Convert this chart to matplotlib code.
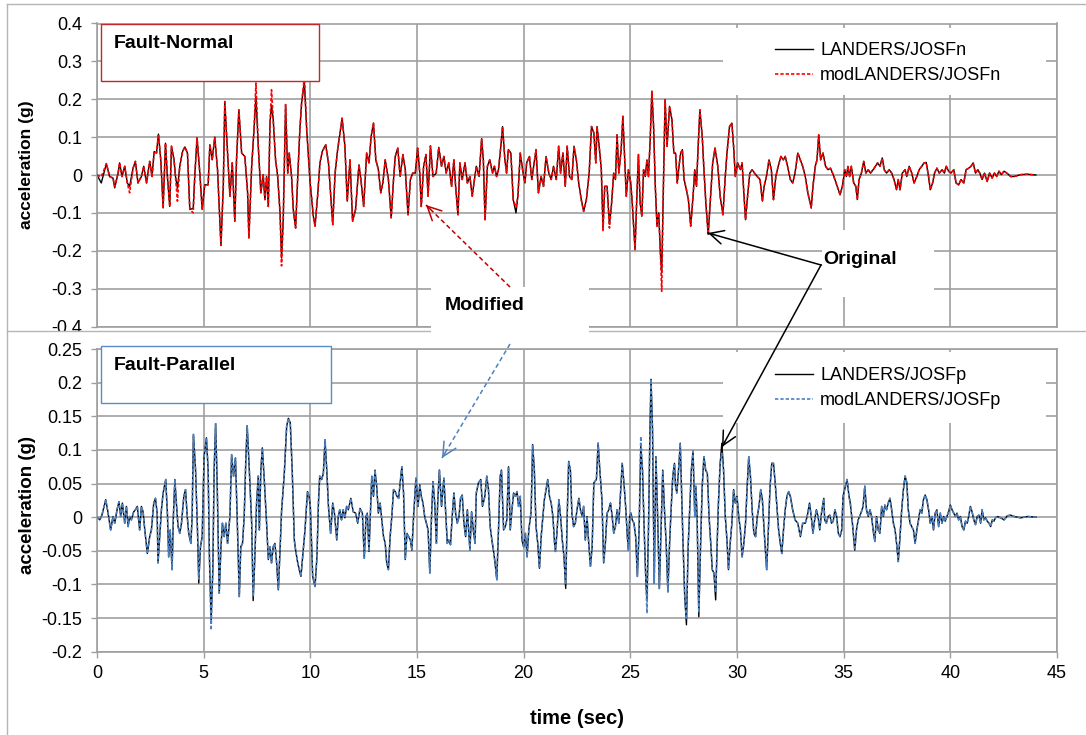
import matplotlib
matplotlib.use('Agg')
import matplotlib.pyplot as plt
from matplotlib.patches import Rectangle, FancyArrowPatch
from matplotlib.lines import Line2D

plt.rcParams['font.family'] = ['Liberation Sans', 'DejaVu Sans']

# ---------------- data ----------------
T_FN = [
 0.00, 0.20, 0.44, 0.59, 0.75, 0.83, 0.99, 1.06, 1.17, 1.30,
 1.42, 1.53, 1.69, 1.80, 1.92, 2.08, 2.19, 2.32, 2.47, 2.58,
 2.68, 2.79, 2.88, 2.99, 3.10, 3.21, 3.30, 3.41, 3.49, 3.61,
 3.68, 3.77, 3.88, 4.01, 4.12, 4.24, 4.35, 4.51, 4.59, 4.69,
 4.82, 4.93, 5.05, 5.21, 5.29, 5.40, 5.52, 5.65, 5.81, 5.92,
 5.99, 6.12, 6.23, 6.34, 6.46, 6.54, 6.65, 6.78, 6.93, 7.06,
 7.12, 7.25, 7.36, 7.45, 7.56, 7.68, 7.79, 7.87, 7.95, 8.03,
 8.11, 8.18, 8.26, 8.37, 8.47, 8.58, 8.65, 8.73, 8.84, 8.94,
 9.01, 9.12, 9.20, 9.31, 9.41, 9.51, 9.59, 9.72, 9.83, 9.98,
 10.14, 10.22, 10.34, 10.45, 10.56, 10.72, 10.85, 10.97, 11.05, 11.16,
 11.28, 11.49, 11.62, 11.73, 11.86, 11.98, 12.12, 12.28, 12.37, 12.50,
 12.64, 12.75, 12.85, 12.96, 13.07, 13.19, 13.30, 13.40, 13.51, 13.66,
 13.79, 13.90, 13.98, 14.10, 14.21, 14.34, 14.45, 14.58, 14.69, 14.80,
 14.92, 15.03, 15.13, 15.20, 15.31, 15.42, 15.52, 15.63, 15.75, 15.90,
 16.02, 16.15, 16.26, 16.37, 16.49, 16.62, 16.73, 16.81, 16.92, 17.01,
 17.12, 17.25, 17.36, 17.48, 17.59, 17.67, 17.78, 17.91, 18.03, 18.11,
 18.19, 18.30, 18.41, 18.54, 18.63, 18.73, 18.82, 18.93, 19.01, 19.12,
 19.20, 19.28, 19.40, 19.51, 19.64, 19.73, 19.84, 19.95, 20.06, 20.14,
 20.27, 20.38, 20.47, 20.58, 20.69, 20.82, 20.93, 21.05, 21.18, 21.29,
 21.40, 21.53, 21.64, 21.73, 21.84, 21.95, 22.04, 22.15, 22.26, 22.36,
 22.47, 22.58, 22.70, 22.81, 22.94, 23.07, 23.18, 23.29, 23.38, 23.44,
 23.57, 23.64, 23.72, 23.80, 23.91, 24.02, 24.11, 24.22, 24.30, 24.38,
 24.46, 24.57, 24.65, 24.75, 24.81, 24.91, 25.02, 25.09, 25.22, 25.30,
 25.38, 25.46, 25.54, 25.62, 25.70, 25.78, 25.85, 25.93, 26.01, 26.09,
 26.17, 26.25, 26.33, 26.41, 26.47, 26.55, 26.63, 26.72, 26.84, 26.95,
 27.04, 27.12, 27.20, 27.28, 27.36, 27.44, 27.52, 27.63, 27.72, 27.83,
 27.94, 28.02, 28.10, 28.18, 28.26, 28.37, 28.45, 28.54, 28.65, 28.77,
 28.86, 28.97, 29.10, 29.21, 29.34, 29.45, 29.53, 29.65, 29.76, 29.84,
 29.92, 30.03, 30.16, 30.24, 30.32, 30.40, 30.51, 30.60, 30.71, 30.82,
 30.95, 31.08, 31.19, 31.27, 31.38, 31.50, 31.61, 31.71, 31.82, 31.93,
 32.06, 32.17, 32.26, 32.37, 32.50, 32.61, 32.72, 32.85, 32.97, 33.08,
 33.20, 33.32, 33.48, 33.56, 33.67, 33.75, 33.83, 33.92, 34.03, 34.15,
 34.27, 34.38, 34.48, 34.59, 34.70, 34.83, 34.94, 35.05, 35.13, 35.20,
 35.28, 35.36, 35.47, 35.57, 35.64, 35.72, 35.83, 35.94, 36.04, 36.15,
 36.26, 36.38, 36.49, 36.59, 36.70, 36.81, 36.90, 37.01, 37.14, 37.25,
 37.36, 37.48, 37.56, 37.64, 37.75, 37.88, 37.96, 38.07, 38.19, 38.30,
 38.43, 38.54, 38.66, 38.77, 38.87, 38.98, 39.06, 39.17, 39.26, 39.37,
 39.48, 39.61, 39.72, 39.81, 39.92, 40.03, 40.16, 40.27, 40.39, 40.50,
 40.63, 40.74, 40.86, 40.97, 41.07, 41.18, 41.29, 41.38, 41.49, 41.60,
 41.73, 41.84, 41.96, 42.07, 42.17, 42.28, 42.39, 42.52, 42.67, 42.83,
 42.99, 43.30, 43.62, 44.01]

FN_ORIG = [
 0.000, -0.021, 0.030, -0.004, -0.008, -0.034, 0.005, 0.032, -0.004, 0.023,
 -0.021, -0.030, 0.018, 0.036, -0.021, -0.004, 0.023, -0.021, 0.036, -0.004,
 0.062, 0.058, 0.108, 0.040, -0.087, 0.084, -0.004, -0.083, 0.076, 0.040,
 -0.004, -0.035, 0.023, 0.062, 0.074, 0.058, -0.091, -0.088, 0.005, 0.098,
 0.005, -0.091, -0.026, -0.026, 0.080, 0.040, 0.100, 0.014, -0.186, -0.030,
 0.194, 0.058, -0.056, 0.032, -0.122, 0.040, 0.172, 0.058, 0.049, -0.047,
 -0.166, 0.023, 0.120, 0.208, 0.076, -0.047, 0.001, -0.065, -0.004, -0.083,
 0.137, 0.185, 0.146, 0.040, -0.004, -0.100, -0.219, -0.118, 0.186, 0.005,
 0.058, -0.004, -0.091, -0.140, -0.004, 0.120, 0.190, 0.245, 0.120, -0.012,
 -0.109, -0.135, -0.056, 0.032, 0.062, 0.080, 0.032, -0.065, -0.131, 0.005,
 0.067, 0.150, 0.076, -0.069, 0.040, -0.122, -0.091, 0.027, -0.012, -0.083,
 0.058, 0.032, 0.102, 0.137, 0.040, 0.014, -0.047, -0.021, 0.040, -0.012,
 -0.113, -0.012, 0.049, 0.071, -0.004, 0.054, 0.014, -0.105, -0.012, 0.005,
 0.005, 0.071, 0.005, -0.083, 0.023, 0.054, -0.056, 0.077, -0.004, 0.005,
 0.073, 0.023, 0.049, 0.005, 0.032, -0.030, 0.040, -0.030, -0.105, 0.032,
 -0.012, 0.032, -0.021, -0.004, -0.056, -0.021, 0.023, -0.004, 0.096, 0.040,
 -0.118, 0.023, 0.040, 0.005, 0.023, -0.004, 0.014, 0.076, 0.128, 0.040,
 0.005, 0.067, 0.058, -0.065, -0.100, -0.056, 0.058, 0.014, -0.021, 0.032,
 0.049, -0.012, 0.023, 0.067, -0.047, -0.004, -0.030, 0.049, 0.005, -0.012,
 0.023, -0.012, 0.076, 0.005, 0.058, -0.030, 0.076, -0.004, -0.012, 0.076,
 0.040, -0.021, -0.065, -0.096, -0.065, 0.005, 0.128, 0.111, 0.032, 0.128,
 0.058, 0.014, -0.140, -0.030, -0.030, -0.130, -0.083, 0.005, -0.012, 0.106,
 0.005, 0.067, 0.155, 0.023, -0.056, 0.014, -0.021, -0.074, -0.197, -0.065,
 0.054, -0.074, -0.109, 0.014, -0.004, 0.040, -0.004, 0.093, 0.221, 0.128,
 -0.030, -0.135, -0.100, -0.206, -0.259, -0.030, 0.199, 0.076, 0.181, 0.146,
 0.058, 0.058, -0.021, 0.023, 0.058, 0.067, -0.012, -0.039, -0.065, -0.135,
 -0.056, 0.014, -0.030, 0.076, 0.172, 0.102, 0.014, -0.074, -0.157, -0.047,
 0.032, 0.071, 0.023, -0.056, -0.105, -0.004, 0.058, 0.128, 0.137, 0.076,
 -0.004, 0.032, 0.014, 0.032, -0.047, -0.118, -0.047, 0.005, 0.014, 0.005,
 -0.004, -0.012, -0.069, -0.030, -0.004, 0.040, 0.014, -0.065, -0.004, 0.023,
 0.049, 0.040, 0.049, 0.023, -0.012, -0.021, 0.005, 0.058, 0.040, 0.023,
 -0.004, -0.047, -0.087, -0.030, 0.023, 0.040, 0.106, 0.040, 0.058, 0.023,
 0.014, 0.018, 0.005, -0.012, -0.030, -0.052, -0.030, 0.014, -0.004, 0.023,
 -0.004, 0.023, -0.021, -0.030, -0.065, -0.012, 0.005, 0.036, 0.005, 0.014,
 0.005, 0.014, 0.023, 0.032, 0.023, 0.045, 0.014, 0.005, 0.014, 0.005,
 -0.012, -0.039, -0.012, -0.039, 0.005, 0.014, -0.004, 0.023, 0.005, -0.021,
 -0.004, 0.014, 0.023, 0.032, 0.033, -0.004, -0.039, -0.021, 0.005, 0.018,
 0.005, 0.014, 0.005, 0.023, 0.010, 0.005, 0.014, -0.021, -0.026, -0.012,
 -0.021, 0.014, 0.018, 0.023, 0.032, 0.005, 0.014, 0.005, -0.012, 0.005,
 -0.017, 0.005, -0.008, 0.005, -0.004, 0.010, 0.001, 0.010, 0.004, -0.004,
 -0.004, 0.001, 0.002, 0.000]

FN_MOD = [
 0.000, -0.005, 0.030, -0.004, -0.008, -0.030, 0.005, 0.032, -0.004, 0.023,
 -0.021, -0.047, 0.018, 0.036, -0.021, -0.004, 0.023, -0.021, 0.036, -0.004,
 0.062, 0.058, 0.108, 0.040, -0.087, 0.084, -0.004, -0.083, 0.076, 0.040,
 -0.004, -0.069, 0.023, 0.062, 0.074, 0.058, -0.091, -0.100, 0.005, 0.098,
 0.005, -0.091, -0.026, -0.026, 0.080, 0.040, 0.100, 0.014, -0.186, -0.030,
 0.194, 0.058, -0.056, 0.032, -0.122, 0.040, 0.172, 0.058, 0.049, -0.047,
 -0.166, 0.023, 0.120, 0.243, 0.076, -0.047, 0.001, -0.065, -0.004, -0.083,
 0.137, 0.225, 0.146, 0.040, -0.004, -0.100, -0.240, -0.118, 0.186, 0.005,
 0.058, -0.004, -0.091, -0.140, -0.004, 0.120, 0.190, 0.258, 0.120, -0.012,
 -0.109, -0.135, -0.056, 0.032, 0.062, 0.080, 0.032, -0.065, -0.131, 0.005,
 0.067, 0.150, 0.076, -0.069, 0.040, -0.122, -0.091, 0.027, -0.012, -0.083,
 0.058, 0.032, 0.102, 0.137, 0.040, 0.014, -0.047, -0.021, 0.040, -0.012,
 -0.113, -0.012, 0.049, 0.071, -0.004, 0.054, 0.014, -0.105, -0.012, 0.005,
 0.005, 0.071, 0.005, -0.083, 0.023, 0.054, -0.056, 0.077, -0.004, 0.005,
 0.073, 0.023, 0.049, 0.005, 0.032, -0.030, 0.040, -0.030, -0.105, 0.032,
 -0.012, 0.032, -0.021, -0.004, -0.056, -0.021, 0.023, -0.004, 0.096, 0.040,
 -0.118, 0.023, 0.040, 0.005, 0.023, -0.004, 0.014, 0.076, 0.128, 0.040,
 0.005, 0.067, 0.058, -0.065, -0.085, -0.056, 0.058, 0.014, -0.021, 0.032,
 0.049, -0.012, 0.023, 0.067, -0.047, -0.004, -0.030, 0.049, 0.005, -0.012,
 0.023, -0.012, 0.076, 0.005, 0.058, -0.030, 0.076, -0.004, -0.012, 0.076,
 0.040, -0.021, -0.065, -0.096, -0.065, 0.005, 0.128, 0.111, 0.032, 0.128,
 0.058, 0.014, -0.149, -0.030, -0.030, -0.140, -0.083, 0.005, -0.012, 0.106,
 0.005, 0.067, 0.155, 0.023, -0.056, 0.014, -0.021, -0.074, -0.197, -0.065,
 0.054, -0.074, -0.109, 0.014, -0.004, 0.040, -0.004, 0.093, 0.221, 0.128,
 -0.030, -0.135, -0.100, -0.206, -0.307, -0.030, 0.199, 0.076, 0.181, 0.146,
 0.058, 0.058, -0.021, 0.023, 0.058, 0.067, -0.012, -0.039, -0.065, -0.135,
 -0.056, 0.014, -0.030, 0.076, 0.172, 0.102, 0.014, -0.074, -0.157, -0.047,
 0.032, 0.071, 0.023, -0.056, -0.105, -0.004, 0.058, 0.128, 0.137, 0.076,
 -0.004, 0.032, 0.014, 0.032, -0.047, -0.118, -0.047, 0.005, 0.014, 0.005,
 -0.004, -0.012, -0.069, -0.030, -0.004, 0.040, 0.014, -0.065, -0.004, 0.023,
 0.049, 0.040, 0.049, 0.023, -0.012, -0.021, 0.005, 0.058, 0.040, 0.023,
 -0.004, -0.047, -0.087, -0.030, 0.023, 0.040, 0.106, 0.040, 0.058, 0.023,
 0.014, 0.018, 0.005, -0.012, -0.030, -0.052, -0.030, 0.014, -0.004, 0.023,
 -0.004, 0.023, -0.021, -0.030, -0.065, -0.012, 0.005, 0.036, 0.005, 0.014,
 0.005, 0.014, 0.023, 0.032, 0.023, 0.045, 0.014, 0.005, 0.014, 0.005,
 -0.012, -0.039, -0.012, -0.039, 0.005, 0.014, -0.004, 0.023, 0.005, -0.021,
 -0.004, 0.014, 0.023, 0.032, 0.033, -0.004, -0.039, -0.021, 0.005, 0.018,
 0.005, 0.014, 0.005, 0.023, 0.010, 0.005, 0.014, -0.021, -0.026, -0.012,
 -0.021, 0.014, 0.018, 0.023, 0.032, 0.005, 0.014, 0.005, -0.012, 0.005,
 -0.017, 0.005, -0.008, 0.005, -0.004, 0.010, 0.001, 0.010, 0.004, -0.004,
 -0.004, 0.001, 0.002, 0.000]

T_FP = [
 0.00, 0.13, 0.23, 0.33, 0.41, 0.52, 0.64, 0.75, 0.83, 0.94,
 1.03, 1.11, 1.19, 1.30, 1.38, 1.46, 1.53, 1.61, 1.72, 1.80,
 1.89, 2.00, 2.08, 2.16, 2.24, 2.36, 2.47, 2.55, 2.66, 2.74,
 2.82, 2.86, 2.94, 3.02, 3.10, 3.22, 3.30, 3.36, 3.43, 3.52,
 3.58, 3.65, 3.72, 3.80, 3.88, 3.96, 4.07, 4.15, 4.23, 4.30,
 4.40, 4.46, 4.52, 4.62, 4.71, 4.77, 4.85, 4.93, 5.02, 5.13,
 5.21, 5.27, 5.35, 5.43, 5.49, 5.56, 5.63, 5.73, 5.81, 5.88,
 5.96, 6.04, 6.12, 6.23, 6.31, 6.40, 6.49, 6.57, 6.67, 6.74,
 6.82, 6.90, 6.98, 7.04, 7.14, 7.25, 7.32, 7.40, 7.48, 7.56,
 7.61, 7.68, 7.75, 7.84, 7.95, 8.03, 8.11, 8.18, 8.26, 8.34,
 8.42, 8.50, 8.58, 8.65, 8.78, 8.89, 8.97, 9.06, 9.15, 9.25,
 9.31, 9.41, 9.48, 9.56, 9.64, 9.75, 9.83, 9.87, 9.94, 10.00,
 10.11, 10.22, 10.31, 10.38, 10.44, 10.53, 10.61, 10.69, 10.77, 10.85,
 10.95, 11.05, 11.13, 11.24, 11.31, 11.38, 11.46, 11.54, 11.62, 11.70,
 11.78, 11.90, 12.01, 12.12, 12.22, 12.33, 12.44, 12.53, 12.61, 12.67,
 12.75, 12.83, 12.88, 12.96, 13.03, 13.11, 13.19, 13.27, 13.35, 13.43,
 13.51, 13.58, 13.66, 13.74, 13.82, 13.90, 13.98, 14.06, 14.14, 14.21,
 14.29, 14.37, 14.45, 14.53, 14.61, 14.69, 14.76, 14.84, 14.95, 15.05,
 15.13, 15.20, 15.28, 15.36, 15.44, 15.52, 15.60, 15.68, 15.75, 15.83,
 15.91, 15.97, 16.05, 16.15, 16.26, 16.34, 16.42, 16.49, 16.57, 16.65,
 16.73, 16.81, 16.89, 16.97, 17.04, 17.12, 17.20, 17.28, 17.36, 17.44,
 17.48, 17.56, 17.64, 17.72, 17.78, 17.88, 17.99, 18.07, 18.18, 18.27,
 18.35, 18.43, 18.51, 18.58, 18.66, 18.74, 18.82, 18.90, 18.96, 19.06,
 19.14, 19.21, 19.29, 19.37, 19.45, 19.53, 19.61, 19.69, 19.76, 19.84,
 19.92, 20.00, 20.08, 20.16, 20.24, 20.35, 20.42, 20.50, 20.58, 20.66,
 20.74, 20.82, 20.90, 20.97, 21.05, 21.13, 21.21, 21.29, 21.37, 21.45,
 21.49, 21.57, 21.65, 21.73, 21.81, 21.89, 21.97, 22.04, 22.11, 22.19,
 22.26, 22.34, 22.42, 22.50, 22.59, 22.66, 22.74, 22.81, 22.89, 22.97,
 23.05, 23.13, 23.21, 23.29, 23.41, 23.49, 23.57, 23.67, 23.75, 23.83,
 23.91, 23.99, 24.07, 24.15, 24.22, 24.30, 24.38, 24.46, 24.54, 24.62,
 24.70, 24.78, 24.86, 24.91, 24.97, 25.03, 25.09, 25.17, 25.25, 25.33,
 25.41, 25.49, 25.57, 25.65, 25.73, 25.78, 25.85, 25.92, 25.97, 26.04,
 26.12, 26.20, 26.28, 26.36, 26.44, 26.52, 26.60, 26.68, 26.76, 26.84,
 26.91, 26.99, 27.07, 27.12, 27.18, 27.26, 27.34, 27.41, 27.47, 27.55,
 27.63, 27.71, 27.78, 27.86, 27.94, 28.02, 28.07, 28.13, 28.21, 28.29,
 28.37, 28.45, 28.53, 28.61, 28.69, 28.77, 28.84, 28.92, 29.00, 29.07,
 29.13, 29.21, 29.29, 29.37, 29.45, 29.53, 29.60, 29.68, 29.76, 29.84,
 29.92, 30.00, 30.08, 30.16, 30.24, 30.32, 30.40, 30.47, 30.55, 30.63,
 30.71, 30.79, 30.87, 30.95, 31.03, 31.11, 31.19, 31.27, 31.39, 31.47,
 31.55, 31.63, 31.71, 31.79, 31.87, 31.95, 32.03, 32.10, 32.18, 32.26,
 32.34, 32.42, 32.50, 32.61, 32.72, 32.85, 32.97, 33.08, 33.20, 33.29,
 33.40, 33.48, 33.56, 33.64, 33.72, 33.80, 33.88, 33.96, 34.07, 34.11,
 34.19, 34.27, 34.35, 34.43, 34.51, 34.59, 34.67, 34.75, 34.83, 34.91,
 34.97, 35.16, 35.25, 35.31, 35.41, 35.52, 35.60, 35.68, 35.75, 35.83,
 35.91, 35.99, 36.07, 36.15, 36.23, 36.31, 36.38, 36.46, 36.54, 36.62,
 36.70, 36.78, 36.86, 36.93, 37.01, 37.09, 37.17, 37.25, 37.33, 37.41,
 37.48, 37.56, 37.64, 37.72, 37.80, 37.88, 37.96, 38.03, 38.11, 38.19,
 38.27, 38.35, 38.43, 38.51, 38.58, 38.66, 38.74, 38.82, 38.90, 38.98,
 39.06, 39.14, 39.21, 39.29, 39.37, 39.45, 39.53, 39.61, 39.69, 39.76,
 39.84, 39.92, 40.00, 40.08, 40.16, 40.24, 40.31, 40.39, 40.47, 40.55,
 40.63, 40.71, 40.79, 40.86, 40.94, 41.02, 41.10, 41.18, 41.26, 41.34,
 41.42, 41.49, 41.57, 41.65, 41.73, 41.81, 41.89, 41.97, 42.04, 42.12,
 42.20, 42.36, 42.52, 42.67, 42.83, 42.99, 43.30, 43.62, 44.01]

FP_ORIG = [
 0.000, -0.004, 0.003, 0.016, 0.026, 0.006, -0.019, 0.001, -0.009, 0.011,
 0.023, 0.001, 0.021, -0.009, 0.016, -0.014, 0.001, -0.004, 0.008, 0.011,
 0.016, -0.019, 0.016, 0.008, -0.019, -0.054, -0.029, -0.019, 0.021, 0.028,
 0.006, -0.068, -0.029, 0.011, 0.036, 0.056, 0.006, -0.059, -0.019, -0.078,
 0.001, 0.056, 0.021, -0.014, -0.024, -0.009, 0.031, 0.041, 0.001, -0.024,
 -0.039, 0.001, 0.123, 0.070, -0.019, -0.098, -0.044, -0.029, 0.090, 0.118,
 0.070, -0.059, -0.153, -0.078, 0.070, 0.139, 0.056, -0.113, -0.044, -0.009,
 -0.029, -0.009, -0.039, 0.001, 0.093, 0.061, 0.088, 0.001, -0.118, -0.044,
 -0.039, 0.001, 0.090, 0.136, 0.070, -0.009, -0.124, -0.059, 0.021, 0.061,
 -0.019, 0.070, 0.103, 0.056, -0.009, -0.063, -0.044, -0.068, -0.044, -0.039,
 -0.068, -0.108, -0.049, 0.008, 0.065, 0.135, 0.147, 0.140, 0.070, -0.034,
 -0.049, -0.068, -0.078, -0.088, -0.059, -0.019, 0.021, 0.038, 0.031, 0.016,
 -0.088, -0.103, -0.059, 0.021, 0.061, 0.056, 0.065, 0.115, 0.070, 0.016,
 -0.024, 0.021, 0.006, -0.034, 0.001, 0.011, -0.004, 0.011, -0.001, 0.016,
 0.011, 0.028, 0.008, 0.006, -0.009, 0.013, 0.006, -0.061, 0.001, 0.006,
 -0.051, 0.016, 0.061, 0.031, 0.070, 0.046, 0.006, 0.021, -0.004, -0.029,
 -0.039, -0.068, -0.078, -0.029, 0.001, 0.041, 0.038, 0.031, 0.028, 0.051,
 0.075, 0.036, -0.063, -0.024, -0.029, -0.034, -0.049, 0.001, 0.058, 0.016,
 0.048, 0.031, 0.021, 0.001, -0.009, -0.019, -0.083, 0.001, 0.053, 0.021,
 -0.039, 0.021, 0.070, 0.016, 0.058, 0.011, -0.039, -0.034, -0.041, 0.001,
 0.036, 0.006, -0.009, 0.001, 0.028, 0.033, -0.009, -0.029, 0.011, -0.029,
 -0.049, 0.008, -0.019, -0.039, 0.036, 0.051, 0.056, 0.016, 0.031, 0.061,
 0.041, -0.014, -0.034, -0.049, -0.068, -0.093, -0.019, 0.061, 0.070, -0.019,
 -0.014, -0.004, 0.075, -0.019, 0.011, 0.036, 0.031, 0.038, 0.016, 0.031,
 -0.034, -0.044, -0.024, -0.059, -0.019, 0.008, 0.108, 0.070, -0.014, -0.039,
 -0.076, -0.029, 0.001, 0.026, 0.041, 0.056, 0.031, 0.021, 0.001, -0.039,
 -0.051, -0.019, 0.026, 0.001, -0.034, -0.059, -0.106, 0.001, 0.083, 0.070,
 0.006, -0.014, -0.009, 0.011, 0.028, 0.011, 0.001, 0.016, -0.034, 0.001,
 -0.039, -0.073, -0.044, 0.051, 0.056, 0.110, 0.070, 0.026, -0.068, -0.039,
 0.006, 0.011, 0.021, 0.001, -0.024, -0.014, 0.011, -0.009, 0.036, 0.080,
 0.051, 0.016, -0.029, -0.049, 0.001, 0.006, -0.004, -0.009, -0.029, -0.088,
 -0.019, 0.105, 0.070, -0.019, -0.098, -0.123, -0.019, 0.130, 0.205, 0.130,
 -0.098, 0.090, 0.001, -0.106, -0.019, 0.070, 0.011, -0.039, -0.111, -0.039,
 0.011, 0.061, 0.080, 0.046, 0.036, 0.070, 0.110, 0.031, -0.039, -0.118,
 -0.160, -0.044, 0.011, 0.070, 0.098, 0.001, 0.046, 0.001, -0.148, -0.044,
 0.046, 0.090, 0.070, 0.065, 0.001, -0.039, -0.078, -0.083, -0.123, -0.039,
 0.021, 0.080, 0.110, 0.070, 0.001, -0.034, -0.078, -0.039, -0.009, 0.041,
 0.021, 0.031, 0.001, -0.019, -0.059, -0.039, -0.009, 0.041, 0.090, 0.061,
 0.011, -0.024, -0.029, 0.001, 0.016, 0.041, 0.026, -0.019, -0.078, -0.019,
 0.046, 0.080, 0.080, 0.051, 0.016, -0.019, -0.039, -0.054, -0.019, 0.011,
 0.031, 0.038, 0.031, 0.011, -0.004, -0.009, -0.029, -0.009, -0.009, 0.001,
 0.021, 0.001, -0.024, -0.004, 0.011, 0.001, -0.019, 0.006, 0.028, -0.004,
 -0.009, 0.001, 0.003, -0.009, -0.006, 0.011, 0.001, -0.024, -0.029, -0.019,
 0.031, 0.056, 0.031, 0.021, -0.009, -0.049, -0.019, -0.004, 0.001, 0.008,
 0.016, 0.046, 0.011, 0.001, 0.011, 0.001, -0.019, -0.036, 0.001, -0.019,
 -0.024, 0.016, 0.001, 0.018, 0.011, 0.021, 0.028, 0.011, -0.009, -0.019,
 -0.039, -0.066, -0.029, 0.011, 0.041, 0.061, 0.051, 0.011, -0.009, -0.014,
 -0.019, -0.039, -0.019, -0.004, 0.011, 0.006, 0.026, 0.033, 0.026, 0.011,
 -0.009, 0.001, -0.019, 0.006, 0.011, -0.014, 0.006, -0.009, 0.001, -0.006,
 0.001, 0.008, 0.018, 0.011, 0.006, 0.001, 0.006, -0.004, 0.001, -0.014,
 -0.019, -0.006, -0.009, 0.001, 0.016, 0.008, -0.004, -0.011, 0.001, 0.003,
 -0.009, 0.011, -0.004, -0.001, -0.006, -0.009, -0.014, -0.004, -0.006, -0.001,
 0.001, -0.001, -0.004, 0.002, 0.003, 0.001, -0.001, 0.001, 0.000]

FP_MOD = [
 0.000, -0.004, 0.003, 0.016, 0.026, 0.006, -0.019, 0.001, -0.009, 0.011,
 0.023, 0.001, 0.021, -0.009, 0.016, -0.014, 0.001, -0.004, 0.008, 0.011,
 0.016, -0.019, 0.016, 0.008, -0.019, -0.054, -0.029, -0.019, 0.021, 0.028,
 0.006, -0.068, -0.029, 0.011, 0.036, 0.056, 0.006, -0.059, -0.019, -0.078,
 0.001, 0.056, 0.021, -0.014, -0.024, -0.009, 0.031, 0.041, 0.001, -0.024,
 -0.039, 0.001, 0.123, 0.070, -0.019, -0.092, -0.044, -0.029, 0.090, 0.118,
 0.070, -0.059, -0.168, -0.078, 0.070, 0.139, 0.056, -0.113, -0.044, -0.009,
 -0.029, -0.009, -0.039, 0.001, 0.093, 0.061, 0.088, 0.001, -0.118, -0.044,
 -0.039, 0.001, 0.090, 0.136, 0.070, -0.009, -0.118, -0.059, 0.021, 0.061,
 -0.019, 0.070, 0.103, 0.056, -0.009, -0.063, -0.044, -0.068, -0.044, -0.039,
 -0.068, -0.108, -0.049, 0.008, 0.065, 0.135, 0.147, 0.140, 0.070, -0.034,
 -0.049, -0.068, -0.078, -0.088, -0.059, -0.019, 0.021, 0.038, 0.031, 0.016,
 -0.088, -0.103, -0.059, 0.021, 0.061, 0.056, 0.065, 0.115, 0.070, 0.016,
 -0.024, 0.021, 0.006, -0.034, 0.001, 0.011, -0.004, 0.011, -0.001, 0.016,
 0.011, 0.028, 0.008, 0.006, -0.009, 0.013, 0.006, -0.061, 0.001, 0.006,
 -0.051, 0.016, 0.061, 0.031, 0.070, 0.046, 0.006, 0.021, -0.004, -0.029,
 -0.039, -0.068, -0.078, -0.029, 0.001, 0.041, 0.038, 0.031, 0.028, 0.051,
 0.075, 0.036, -0.063, -0.024, -0.029, -0.034, -0.049, 0.001, 0.058, 0.016,
 0.048, 0.031, 0.021, 0.001, -0.009, -0.019, -0.083, 0.001, 0.053, 0.021,
 -0.039, 0.021, 0.070, 0.016, 0.058, 0.011, -0.039, -0.034, -0.041, 0.001,
 0.036, 0.006, -0.009, 0.001, 0.028, 0.033, -0.009, -0.029, 0.011, -0.029,
 -0.049, 0.008, -0.019, -0.039, 0.036, 0.051, 0.056, 0.016, 0.031, 0.061,
 0.041, -0.014, -0.034, -0.049, -0.068, -0.093, -0.019, 0.061, 0.070, -0.019,
 -0.014, -0.004, 0.075, -0.019, 0.011, 0.036, 0.031, 0.038, 0.016, 0.031,
 -0.034, -0.044, -0.024, -0.059, -0.019, 0.008, 0.108, 0.070, -0.014, -0.039,
 -0.076, -0.029, 0.001, 0.026, 0.041, 0.056, 0.031, 0.021, 0.001, -0.039,
 -0.051, -0.019, 0.026, 0.001, -0.034, -0.059, -0.100, 0.001, 0.083, 0.070,
 0.006, -0.014, -0.009, 0.011, 0.028, 0.011, 0.001, 0.016, -0.034, 0.001,
 -0.039, -0.073, -0.044, 0.051, 0.056, 0.110, 0.070, 0.026, -0.068, -0.039,
 0.006, 0.011, 0.021, 0.001, -0.024, -0.014, 0.011, -0.009, 0.036, 0.080,
 0.051, 0.016, -0.029, -0.049, 0.001, 0.006, -0.004, -0.009, -0.029, -0.088,
 -0.019, 0.120, 0.070, -0.019, -0.098, -0.143, -0.019, 0.130, 0.205, 0.130,
 -0.098, 0.090, 0.001, -0.106, -0.019, 0.070, 0.011, -0.039, -0.111, -0.039,
 0.011, 0.061, 0.080, 0.046, 0.036, 0.070, 0.110, 0.031, -0.039, -0.118,
 -0.152, -0.044, 0.011, 0.070, 0.098, 0.001, 0.046, 0.001, -0.142, -0.044,
 0.046, 0.090, 0.070, 0.065, 0.001, -0.039, -0.078, -0.083, -0.112, -0.039,
 0.021, 0.080, 0.095, 0.070, 0.001, -0.034, -0.078, -0.039, -0.009, 0.041,
 0.021, 0.031, 0.001, -0.019, -0.059, -0.039, -0.009, 0.041, 0.090, 0.061,
 0.011, -0.024, -0.029, 0.001, 0.016, 0.041, 0.026, -0.019, -0.078, -0.019,
 0.046, 0.080, 0.080, 0.051, 0.016, -0.019, -0.039, -0.054, -0.019, 0.011,
 0.031, 0.038, 0.031, 0.011, -0.004, -0.009, -0.029, -0.009, -0.009, 0.001,
 0.021, 0.001, -0.024, -0.004, 0.011, 0.001, -0.019, 0.006, 0.028, -0.004,
 -0.009, 0.001, 0.003, -0.009, -0.006, 0.011, 0.001, -0.024, -0.029, -0.019,
 0.031, 0.056, 0.031, 0.021, -0.009, -0.049, -0.019, -0.004, 0.001, 0.008,
 0.016, 0.046, 0.011, 0.001, 0.011, 0.001, -0.019, -0.036, 0.001, -0.019,
 -0.024, 0.016, 0.001, 0.018, 0.011, 0.021, 0.028, 0.011, -0.009, -0.019,
 -0.039, -0.066, -0.029, 0.011, 0.041, 0.061, 0.051, 0.011, -0.009, -0.014,
 -0.019, -0.039, -0.019, -0.004, 0.011, 0.006, 0.026, 0.033, 0.026, 0.011,
 -0.009, 0.001, -0.019, 0.006, 0.011, -0.014, 0.006, -0.009, 0.001, -0.006,
 0.001, 0.008, 0.018, 0.011, 0.006, 0.001, 0.006, -0.004, 0.001, -0.014,
 -0.019, -0.006, -0.009, 0.001, 0.016, 0.008, -0.004, -0.011, 0.001, 0.003,
 -0.009, 0.011, -0.004, -0.001, -0.006, -0.009, -0.014, -0.004, -0.006, -0.001,
 0.001, -0.001, -0.004, 0.002, 0.003, 0.001, -0.001, 0.001, 0.000]

X_TICKS = [0, 5, 10, 15, 20, 25, 30, 35, 40, 45]
X_TICKLABELS = ['0', '5', '10', '15', '20', '25', '30', '35', '40', '45']
FN_YTICKS = [-0.4, -0.3, -0.2, -0.1, 0.0, 0.1, 0.2, 0.3, 0.4]
FN_YTICKLABELS = ['-0.4', '-0.3', '-0.2', '-0.1', '0', '0.1', '0.2', '0.3', '0.4']
FP_YTICKS = [-0.2, -0.15, -0.1, -0.05, 0.0, 0.05, 0.1, 0.15, 0.2, 0.25]
FP_YTICKLABELS = ['-0.2', '-0.15', '-0.1', '-0.05', '0', '0.05', '0.1', '0.15', '0.2', '0.25']
FN_NAMES = ['LANDERS/JOSFn', 'modLANDERS/JOSFn']
FP_NAMES = ['LANDERS/JOSFp', 'modLANDERS/JOSFp']

# ---------------- figure ----------------
W, H = 1086, 735
fig = plt.figure(figsize=(W / 100, H / 100), dpi=100)
fig.patch.set_facecolor('white')


def fx(x):
    return x / W


def fy(y):
    return 1 - y / H


GRID = '#9f9f9f'
FRAME = '#b5b5b5'
RED = '#ff0000'
BLUE = '#4a80c4'


def style_axes(ax, yticks, ylabels, ylim, show_x):
    ax.set_xlim(0, 45)
    ax.set_ylim(*ylim)
    ax.set_xticks(X_TICKS)
    ax.set_yticks(yticks)
    ax.set_yticklabels(ylabels)
    if show_x:
        ax.set_xticklabels(X_TICKLABELS)
    ax.grid(True, color=GRID, lw=1.2)
    ax.set_axisbelow(True)
    for s in ax.spines.values():
        s.set_color(GRID)
        s.set_linewidth(1.2)
    ax.tick_params(axis='y', direction='out', length=4.5, width=1.0, color=GRID,
                   labelsize=13, pad=6)
    if show_x:
        ax.tick_params(axis='x', direction='out', length=4.5, width=1.0, color=GRID,
                       labelsize=13, pad=5)
    else:
        ax.tick_params(axis='x', length=0, labelbottom=False)


# top axes (fault-normal)
ax1 = fig.add_axes([fx(97), fy(326.5), fx(1057) - fx(97), fy(23.5) - fy(326.5)])
ax1.set_zorder(1)
style_axes(ax1, FN_YTICKS, FN_YTICKLABELS, (-0.4, 0.4), False)
n1 = min(len(T_FN), len(FN_ORIG), len(FN_MOD))
ax1.plot(T_FN[:n1], FN_ORIG[:n1], color='black', lw=1.0, zorder=2)
ax1.plot(T_FN[:n1], FN_MOD[:n1], color=RED, lw=1.2, ls=(0, (2.0, 1.2)), zorder=3)

# white cover of the lower chart (the lower chart sits on top of the upper one)
fig.add_artist(Rectangle((fx(7), 0), 1 - fx(7), fy(330.5), transform=fig.transFigure,
                         facecolor='white', edgecolor='none', zorder=2))

# bottom axes (fault-parallel)
ax2 = fig.add_axes([fx(97), fy(651.7), fx(1057) - fx(97), fy(349) - fy(651.7)])
ax2.set_zorder(3)
style_axes(ax2, FP_YTICKS, FP_YTICKLABELS, (-0.2, 0.25), True)
n2 = min(len(T_FP), len(FP_ORIG), len(FP_MOD))
ax2.plot(T_FP[:n2], FP_ORIG[:n2], color='black', lw=1.0, zorder=2)
ax2.plot(T_FP[:n2], FP_MOD[:n2], color=BLUE, lw=1.2, ls=(0, (2.0, 1.2)), zorder=3)


def add_box(ax, x0, y0, x1, y1, edge, lw=1.0):
    r = Rectangle((fx(x0), fy(y1)), fx(x1) - fx(x0), fy(y0) - fy(y1),
                  transform=fig.transFigure, facecolor='white', edgecolor=edge,
                  lw=lw, zorder=4, clip_on=False)
    ax.add_patch(r)


# legend backgrounds and title boxes inside each chart
add_box(ax1, 723, 28, 1046, 95, 'none')
add_box(ax2, 723, 352, 1046, 423, 'none')
add_box(ax1, 101, 24, 319, 81, '#c0282d', 1.0)
add_box(ax2, 101, 346, 331, 403, '#5b8bc9', 1.0)

fn_handles = [Line2D([], [], color='black', lw=1.0),
              Line2D([], [], color=RED, lw=1.2, ls=(0, (2.0, 1.2)))]
fp_handles = [Line2D([], [], color='black', lw=1.0),
              Line2D([], [], color=BLUE, lw=1.2, ls=(0, (2.0, 1.2)))]
for ax, hs, names, ytop in ((ax1, fn_handles, FN_NAMES, 42),
                            (ax2, fp_handles, FP_NAMES, 367)):
    leg = ax.legend(hs, names, loc='upper left',
                    bbox_to_anchor=(fx(775), fy(ytop)), bbox_transform=fig.transFigure,
                    frameon=False, fontsize=13, handlelength=2.1, handletextpad=0.4,
                    labelspacing=0.45, borderpad=0, borderaxespad=0)
    leg.set_zorder(5)

fig.text(fx(114), fy(43), 'Fault-Normal', fontsize=14, fontweight='bold',
         ha='left', va='center', zorder=6)
fig.text(fx(114), fy(365), 'Fault-Parallel', fontsize=14, fontweight='bold',
         ha='left', va='center', zorder=6)

# axis titles
fig.text(fx(27), fy(165), 'acceleration (g)', rotation=90, fontsize=12.5,
         fontweight='bold', ha='center', va='center', zorder=6)
fig.text(fx(27), fy(505), 'acceleration (g)', rotation=90, fontsize=13.5,
         fontweight='bold', ha='center', va='center', zorder=6)
fig.text(fx(577), fy(718), 'time (sec)', fontsize=14.5, fontweight='bold',
         ha='center', va='center', zorder=6)

# chart frames
for (xa, ya, xb, yb) in ((7, 4, 7, 735), (7, 4, 1086, 4), (7, 330.5, 1086, 330.5)):
    fig.add_artist(Line2D([fx(xa), fx(xb)], [fy(ya), fy(yb)], transform=fig.transFigure,
                          color=FRAME, lw=1.0, zorder=6))

# annotation boxes
for (x0, y0, x1, y1) in ((431, 287, 589, 342), (822, 230, 934, 297)):
    fig.add_artist(Rectangle((fx(x0), fy(y1)), fx(x1) - fx(x0), fy(y0) - fy(y1),
                             transform=fig.transFigure, facecolor='white',
                             edgecolor='none', zorder=7))
fig.text(fx(485), fy(306), 'Modified', fontsize=14, fontweight='bold',
         ha='center', va='center', zorder=8)
fig.text(fx(860), fy(259), 'Original', fontsize=14, fontweight='bold',
         ha='center', va='center', zorder=8)


def arrow(p0, p1, color, dashed):
    x0, y0 = p0
    x1, y1 = p1
    fig.add_artist(Line2D([fx(x0), fx(x1)], [fy(y0), fy(y1)], transform=fig.transFigure,
                          color=color, lw=1.1, ls=(0, (3, 2)) if dashed else '-',
                          zorder=9))
    dx, dy = x1 - x0, y1 - y0
    L = (dx * dx + dy * dy) ** 0.5
    xs, ys = x1 - dx / L * 6, y1 - dy / L * 6
    fig.add_artist(FancyArrowPatch((fx(xs), fy(ys)), (fx(x1), fy(y1)),
                                   transform=fig.transFigure,
                                   arrowstyle='->,head_length=0.9,head_width=0.45',
                                   mutation_scale=11, color=color, lw=1.1,
                                   shrinkA=0, shrinkB=0, zorder=9))


arrow((510, 287), (426, 205), '#c00000', True)
arrow((510, 344), (442, 458), '#4f81bd', True)
arrow((821, 265), (708, 233), 'black', False)
arrow((821, 265), (722, 447), 'black', False)

fig.savefig('out.png', dpi=100, facecolor='white')
